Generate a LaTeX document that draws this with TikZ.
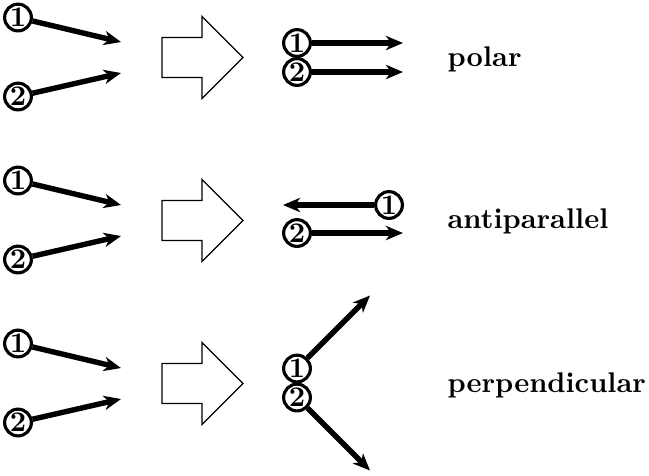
\documentclass[tikz,border=0pt]{standalone}
\usetikzlibrary{arrows.meta}
\begin{document}
\begin{tikzpicture}[x=0.3513pt,y=-0.3513pt,
  num/.style={circle,draw,line width=1.1pt,inner sep=0pt,minimum size=9.4pt,font=\bfseries},
  vec/.style={line width=1.9pt,-{Stealth[length=6pt,width=5pt,inset=1.8pt]}},
  blockarrow/.style={draw,line width=0.45pt,line join=miter},
  lab/.style={anchor=base west,inner sep=0pt,font=\bfseries}]
\useasboundingbox (0,0) rectangle (649,475);
% ---------- row 1 : polar ----------
\node[num] (a1) at (18,17.5) {1};
\node[num] (a2) at (18,96.5) {2};
\coordinate (at1) at (121,42);
\coordinate (at2) at (121,73);
\draw[vec] (a1) -- (at1);
\draw[vec] (a2) -- (at2);
\draw[blockarrow] (162,37.5) -- (202,37.5) -- (202,16.5) -- (243,57.5) -- (202,98.5) -- (202,77.5) -- (162,77.5) -- cycle;
\node[num] (b1) at (297,43) {1};
\node[num] (b2) at (297,72) {2};
\coordinate (bt1) at (403,43);
\coordinate (bt2) at (403,72);
\draw[vec] (b1) -- (bt1);
\draw[vec] (b2) -- (bt2);
\node[lab] (l1) at (447,66) {polar};
% ---------- row 2 : antiparallel ----------
\node[num] (c1) at (18,180.5) {1};
\node[num] (c2) at (18,259.5) {2};
\coordinate (ct1) at (121,205);
\coordinate (ct2) at (121,236);
\draw[vec] (c1) -- (ct1);
\draw[vec] (c2) -- (ct2);
\draw[blockarrow] (162,200.5) -- (202,200.5) -- (202,179.5) -- (243,220.5) -- (202,261.5) -- (202,240.5) -- (162,240.5) -- cycle;
\node[num] (d1) at (389,205) {1};
\node[num] (d2) at (297,233) {2};
\coordinate (dt1) at (283,205);
\coordinate (dt2) at (403,233);
\draw[vec] (d1) -- (dt1);
\draw[vec] (d2) -- (dt2);
\node[lab] (l2) at (447,228) {antiparallel};
% ---------- row 3 : perpendicular ----------
\node[num] (e1) at (18,343.5) {1};
\node[num] (e2) at (18,422.5) {2};
\coordinate (et1) at (121,368);
\coordinate (et2) at (121,399);
\draw[vec] (e1) -- (et1);
\draw[vec] (e2) -- (et2);
\draw[blockarrow] (162,363.5) -- (202,363.5) -- (202,342.5) -- (243,383.5) -- (202,424.5) -- (202,403.5) -- (162,403.5) -- cycle;
\node[num] (f1) at (297,368.5) {1};
\node[num] (f2) at (297,397.5) {2};
\coordinate (ft1) at (370,295.5);
\coordinate (ft2) at (370,470.5);
\draw[vec] (f1) -- (ft1);
\draw[vec] (f2) -- (ft2);
\node[lab] (l3) at (447,392.5) {perpendicular};
\end{tikzpicture}
\end{document}
